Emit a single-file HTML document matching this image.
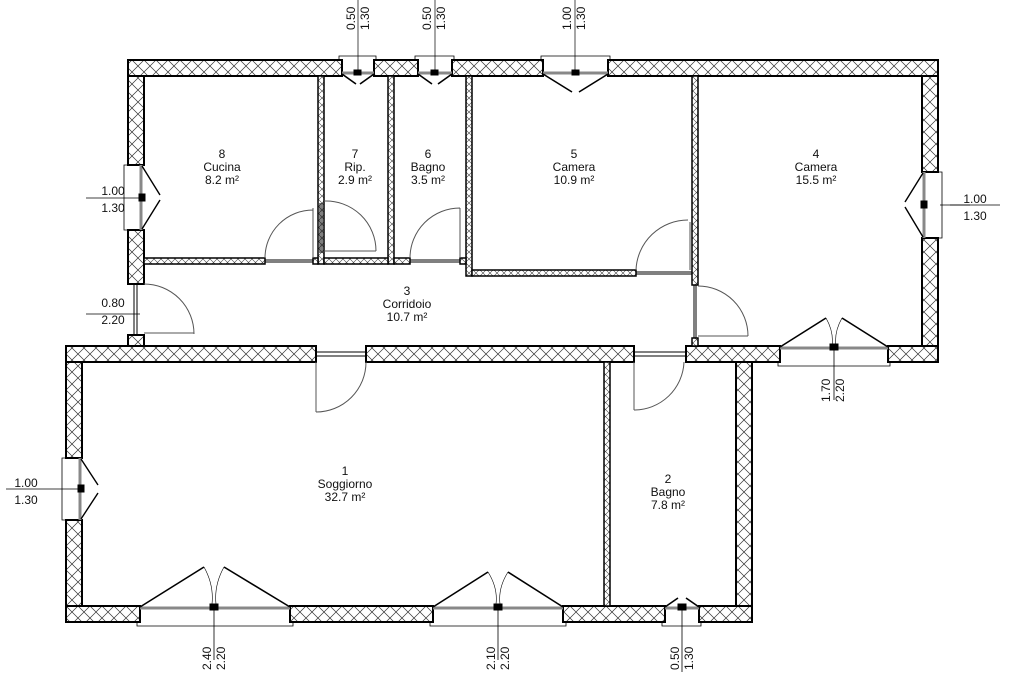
<!DOCTYPE html>
<html><head><meta charset="utf-8"><style>
html,body{margin:0;padding:0;background:#fff}
svg{display:block}
text{font-family:"Liberation Sans",sans-serif;font-size:12px;fill:#111}
</style></head><body>
<svg width="1024" height="683" viewBox="0 0 1024 683" xmlns="http://www.w3.org/2000/svg">
<defs>
<pattern id="h" width="12" height="12" patternUnits="userSpaceOnUse">
<rect width="12" height="12" fill="#fff"/>
<path d="M0 0L12 12M12 0L0 12" stroke="#333" stroke-width="0.7"/>
</pattern>
<pattern id="h2" width="7" height="7" patternUnits="userSpaceOnUse">
<rect width="7" height="7" fill="#fff"/>
<path d="M0 0L7 7M7 0L0 7" stroke="#444" stroke-width="0.6"/>
</pattern>
</defs>
<g fill="url(#h)" stroke="#000" stroke-width="2">
<rect x="128" y="60" width="214" height="16"/>
<rect x="374" y="60" width="44" height="16"/>
<rect x="452" y="60" width="91" height="16"/>
<rect x="608" y="60" width="330" height="16"/>
<rect x="128" y="76" width="16" height="89"/>
<rect x="128" y="230" width="16" height="54"/>
<rect x="128" y="335" width="16" height="11"/>
<rect x="922" y="76" width="16" height="96"/>
<rect x="922" y="238" width="16" height="124"/>
<rect x="686" y="346" width="94" height="16"/>
<rect x="888" y="346" width="50" height="16"/>
<rect x="66" y="346" width="250" height="16"/>
<rect x="366" y="346" width="268" height="16"/>
<rect x="66" y="362" width="16" height="96"/>
<rect x="66" y="520" width="16" height="102"/>
<rect x="66" y="606" width="74" height="16"/>
<rect x="290" y="606" width="143" height="16"/>
<rect x="563" y="606" width="102" height="16"/>
<rect x="699" y="606" width="53" height="16"/>
<rect x="736" y="362" width="16" height="244"/>
</g>
<g fill="url(#h2)" stroke="#000" stroke-width="1.5">
<rect x="318" y="76" width="6" height="188"/>
<rect x="388" y="76" width="6" height="188"/>
<rect x="466" y="76" width="6" height="200"/>
<rect x="692" y="76" width="6" height="209"/>
<rect x="692" y="338" width="6" height="8"/>
<rect x="144" y="258" width="121" height="6"/>
<rect x="313" y="258" width="5" height="6"/>
<rect x="324" y="258" width="64" height="6"/>
<rect x="394" y="258" width="16" height="6"/>
<rect x="460" y="258" width="6" height="6"/>
<rect x="472" y="270" width="164" height="6"/>
<rect x="604" y="362" width="6" height="244"/>
</g>
<g fill="none" stroke="#000" stroke-width="1">
<path d="M265 260H313M265 262H313M410 260H460M410 262H460M636 272H692M636 274H692M320 203V253M322 203V253M134 284V335M137 284V335M694 285V338M696 285V338M316 352H366M316 356H366M634 352H686M634 356H686"/>
<g stroke="#555">
<path d="M313 258V208M265 258A48 48 0 0 1 313 210"/>
<path d="M324 251H376M324 201A50 50 0 0 1 376 251"/>
<path d="M460 258V208M410 258A50 50 0 0 1 460 208"/>
<path d="M690 270V222M636 270A52 52 0 0 1 688 220"/>
<path d="M144 333H194M144 284A50 50 0 0 1 194 334"/>
<path d="M698 336H748M698 286A50 50 0 0 1 748 336"/>
<path d="M316 362V412M366 362A50 50 0 0 1 316 412"/>
<path d="M634 362V410M684 362A50 50 0 0 1 634 410"/>
</g>
</g>
<g fill="none" stroke="#000">
<g>
<path d="M339 60V56H376V60M415 60V56H454V60M541 60V56H610V60" stroke-width="0.8"/>
<path d="M342 73H374M418 73H452M543 73H608" stroke="#888" stroke-width="3"/>
<path d="M342 74L356 84M374 74L360 84M418 74L432 84M452 74L438 84M543 74L572 92M608 74L579 92" stroke-width="1.6"/>
<path d="M358 72V50M435 72V50M575 72V50" stroke-width="0.7"/>
<rect x="354" y="70" width="7" height="5" fill="#000"/><rect x="431" y="70" width="7" height="5" fill="#000"/><rect x="572" y="70" width="7" height="5" fill="#000"/>
</g>
<path d="M128 165H124V230H128" stroke-width="0.8"/>
<path d="M141 165V230" stroke="#888" stroke-width="3"/>
<path d="M142 166L160 195M142 229L160 200" stroke-width="1.4"/>
<path d="M86 198H140" stroke-width="0.7"/>
<rect x="139" y="194" width="6" height="7" fill="#000"/>
<path d="M938 172H942V238H938M940 205H970" stroke-width="0.8"/>
<path d="M924 172V238" stroke="#888" stroke-width="3"/>
<path d="M923 173L905 202M923 237L905 207" stroke-width="1.4"/>
<rect x="921" y="201" width="6" height="7" fill="#000"/>
<path d="M66 458H62V520H66M30 489H80" stroke-width="0.8"/>
<path d="M80 458V520" stroke="#888" stroke-width="3"/>
<path d="M81 459L98 485M81 519L98 493" stroke-width="1.4"/>
<rect x="78" y="485" width="6" height="7" fill="#000"/>
<path d="M778 362V366H890V362M834 350V400" stroke-width="0.8"/>
<path d="M780 348H888" stroke="#888" stroke-width="3"/>
<path d="M780 347L826 318M888 347L842 318" stroke-width="1.6"/>
<rect x="830" y="344" width="8" height="6" fill="#000"/>
<path d="M137 622V626H293V622M214 608V660M430 622V626H566V622M498 608V660M662 622V626H701V622M682 608V672" stroke-width="0.8"/>
<path d="M140 608H290M433 608H563M665 608H699" stroke="#888" stroke-width="3"/>
<path d="M140 607L204 567M290 607L224 567M433 607L488 572M563 607L508 572M665 607L678 598M699 607L686 598" stroke-width="1.6"/>
<rect x="210" y="604" width="8" height="6" fill="#000"/><rect x="494" y="604" width="8" height="6" fill="#000"/><rect x="678" y="604" width="8" height="6" fill="#000"/>
<path d="M204 567Q214 585 212 604M224 567Q214 585 216 604M488 572Q498 588 496 604M508 572Q498 588 500 604M826 318Q834 332 832 346M842 318Q834 332 836 346" stroke-width="0.6"/>
</g>
<g text-anchor="middle">
<text x="222" y="158">8</text><text x="222" y="171">Cucina</text><text x="222" y="184">8.2 m²</text>
<text x="355" y="158">7</text><text x="355" y="171">Rip.</text><text x="355" y="184">2.9 m²</text>
<text x="428" y="158">6</text><text x="428" y="171">Bagno</text><text x="428" y="184">3.5 m²</text>
<text x="574" y="158">5</text><text x="574" y="171">Camera</text><text x="574" y="184">10.9 m²</text>
<text x="816" y="158">4</text><text x="816" y="171">Camera</text><text x="816" y="184">15.5 m²</text>
<text x="407" y="295">3</text><text x="407" y="308">Corridoio</text><text x="407" y="321">10.7 m²</text>
<text x="345" y="475">1</text><text x="345" y="488">Soggiorno</text><text x="345" y="501">32.7 m²</text>
<text x="668" y="483">2</text><text x="668" y="496">Bagno</text><text x="668" y="509">7.8 m²</text>
<text x="113" y="195">1.00</text><text x="113" y="212">1.30</text>
<text x="975" y="203">1.00</text><text x="975" y="220">1.30</text>
<text x="26" y="487">1.00</text><text x="26" y="504">1.30</text>
<text x="113" y="307">0.80</text><text x="113" y="324">2.20</text>
</g>
<path d="M86 314H140" stroke="#000" stroke-width="0.7"/>
<path d="M6 489H30" stroke="#000" stroke-width="0.7"/>
<path d="M950 205H1000" stroke="#000" stroke-width="0.7"/>
<g>
<text transform="translate(355,30) rotate(-90)">0.50</text><text transform="translate(369,30) rotate(-90)">1.30</text>
<text transform="translate(431,30) rotate(-90)">0.50</text><text transform="translate(445,30) rotate(-90)">1.30</text>
<text transform="translate(571,30) rotate(-90)">1.00</text><text transform="translate(585,30) rotate(-90)">1.30</text>
<text transform="translate(830,402) rotate(-90)">1.70</text><text transform="translate(844,402) rotate(-90)">2.20</text>
<text transform="translate(211,670) rotate(-90)">2.40</text><text transform="translate(225,670) rotate(-90)">2.20</text>
<text transform="translate(495,670) rotate(-90)">2.10</text><text transform="translate(509,670) rotate(-90)">2.20</text>
<text transform="translate(679,670) rotate(-90)">0.50</text><text transform="translate(693,670) rotate(-90)">1.30</text>
</g>
<path d="M358 0V50M435 0V50M575 0V50" stroke="#000" stroke-width="0.7"/>
</svg>
</body></html>
